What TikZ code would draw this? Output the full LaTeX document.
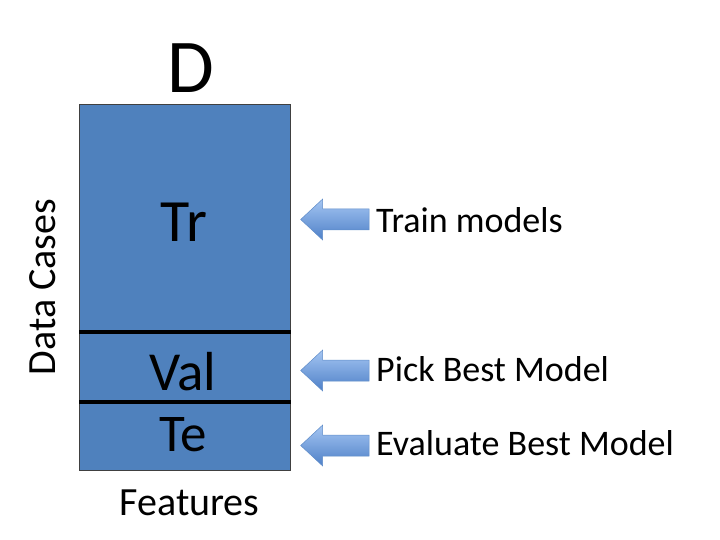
\documentclass[tikz,border=0pt]{standalone}
\usepackage{fontspec}
\setmainfont{Carlito}
\definecolor{boxblue}{RGB}{79,129,189}
\definecolor{arrtop}{RGB}{165,198,242}
\definecolor{arrbot}{RGB}{78,128,200}
\definecolor{arredge}{RGB}{95,140,200}
\begin{document}
\begin{tikzpicture}[x=1pt,y=-1pt,
  lbl/.style={anchor=base west,inner sep=0pt,font=\fontsize{36}{40}\selectfont},
  part/.style={anchor=base,inner sep=0pt},
  blockarrow/.style={top color=arrtop,bottom color=arrbot,draw=arredge,line width=0.5pt}]
\useasboundingbox (0,0) rectangle (720,540);
% main box
\draw[fill=boxblue,draw=black!75,line width=0.8pt] (79,104) coordinate (tl) rectangle (290.5,470.5) coordinate (br);
\coordinate (d1l) at (79,332); \coordinate (d1r) at (290.5,332);
\coordinate (d2l) at (79,402); \coordinate (d2r) at (290.5,402);
\draw[line width=3.6pt] (d1l) -- (d1r);
\draw[line width=3.6pt] (d2l) -- (d2r);
% texts
\node[part,font=\fontsize{76}{80}\selectfont] (D) at (191,93) {D};
\node[part,font=\fontsize{60}{64}\selectfont] (Tr) at (184,241.5) {Tr};
\node[part,font=\fontsize{55}{60}\selectfont] (Val) at (183,390) {Val};
\node[part,font=\fontsize{53}{58}\selectfont] (Te) at (183,451.5) {Te};
\node[part,font=\fontsize{40}{44}\selectfont] (feat) at (189.5,515) {Features};
\node[anchor=base,inner sep=0pt,rotate=90,font=\fontsize{40}{44}\selectfont] (dc) at (55,287) {Data Cases};
% arrows
\foreach \n/\yc in {a1/219.5,a2/370.5,a3/445.5}{
  \draw[blockarrow] (300.7,\yc) -- (322.7,\yc-20.5) -- (322.7,\yc-10.5) -- (369,\yc-10.5)
     -- (369,\yc+10.5) -- (322.7,\yc+10.5) -- (322.7,\yc+20.5) -- cycle;
}
\node[lbl] (l1) at (376,232.5) {Train models};
\node[lbl] (l2) at (376,381.5) {Pick Best Model};
\node[lbl] (l3) at (376,455) {Evaluate Best Model};
\end{tikzpicture}
\end{document}
